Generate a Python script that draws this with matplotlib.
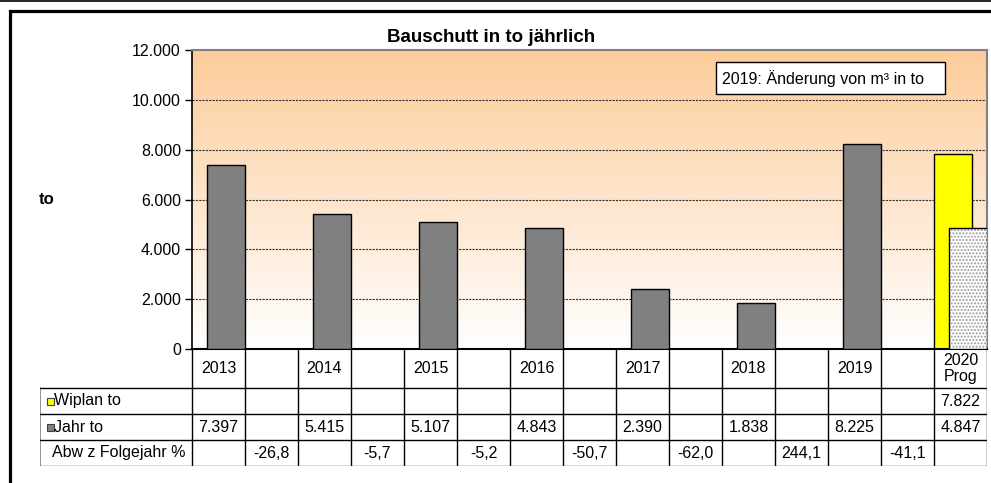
import numpy as np
import matplotlib.pyplot as plt
from matplotlib.patches import Rectangle

plt.rcParams['font.family'] = ['Liberation Sans', 'DejaVu Sans']

# data
categories = ['2013', '', '2014', '', '2015', '', '2016', '', '2017', '', '2018', '', '2019', '', '2020\nProg']
wiplan = [np.nan] * 14 + [7822]
jahr = [7397, np.nan, 5415, np.nan, 5107, np.nan, 4843, np.nan, 2390, np.nan, 1838, np.nan, 8225, np.nan, 4847]
abw = [np.nan, -26.8, np.nan, -5.7, np.nan, -5.2, np.nan, -50.7, np.nan, -62.0, np.nan, 244.1, np.nan, -41.1, np.nan]
row_labels = ['Wiplan to', 'Jahr to', 'Abw z Folgejahr %']
yticks = [0, 2000, 4000, 6000, 8000, 10000, 12000]


def de_int(v):
    return f"{v:,.0f}".replace(',', '.')


def de_dec(v):
    return f"{v:.1f}".replace('.', ',')


W, H = 991, 483
fs = 11.5
fig = plt.figure(figsize=(W / 100, H / 100), dpi=100)

# outer frame
fig.add_artist(plt.Line2D([0, 1], [1 - 1 / H, 1 - 1 / H], color='black', lw=1.2))
fig.add_artist(Rectangle((9.5 / W, -0.1), 1.2, 1 - 10.5 / H + 0.1, transform=fig.transFigure,
                         fill=False, ec='black', lw=2.3))

x0, x1, ytop, ybot = 192, 987, 50, 349
ax = fig.add_axes([x0 / W, 1 - ybot / H, (x1 - x0) / W, (ybot - ytop) / H])
n = len(categories)
x = np.arange(n)
ax.set_xlim(-0.5, n - 0.5)
ax.set_ylim(0, 12000)

# gradient background
grad = np.linspace(0, 1, 256)[:, None]
top = np.array([253, 204, 154]) / 255
bot = np.array([255, 255, 255]) / 255
img = bot + (top - bot) * grad[..., None] * np.ones((1, 2, 1))
ax.imshow(img, extent=[-0.5, n - 0.5, 0, 12000], origin='lower', aspect='auto', zorder=0)

for yv in yticks[1:-1]:
    ax.axhline(yv, color='#333333', lw=0.8, ls=(0, (2, 1)), zorder=1)

wip = np.array(wiplan, dtype=float)
jah = np.array(jahr, dtype=float)
m = ~np.isnan(wip)
ax.bar(x[m] - 0.5, wip[m], width=0.72, align='edge', color='#FFFF00', ec='black', lw=1, zorder=2)
m = ~np.isnan(jah)
xs, hs = x[m], jah[m]
ax.bar(xs[:-1] - 0.22, hs[:-1], width=0.72, align='edge', color='#808080', ec='black', lw=1, zorder=3)
ax.bar(xs[-1:] - 0.22, hs[-1:], width=0.72, align='edge', color='white', ec='#9a9a9a',
       hatch='.....', lw=0, zorder=3)
ax.bar(xs[-1:] - 0.22, hs[-1:], width=0.72, align='edge', fill=False, ec='black', lw=1, zorder=4)

ax.set_yticks(yticks)
ax.set_yticklabels([de_int(v) for v in yticks], fontsize=fs)
ax.tick_params(axis='y', length=5, width=1, pad=3)
ax.set_xticks([])
for s in ['top', 'right']:
    ax.spines[s].set_color('#808080')
    ax.spines[s].set_linewidth(1.5)
ax.spines['left'].set_linewidth(1.2)
ax.spines['bottom'].set_linewidth(1.5)

# annotation box
ax.add_patch(Rectangle((0.659, 0.853), 0.288, 0.107, transform=ax.transAxes,
                       fc='white', ec='black', lw=1, zorder=5))
ax.text(0.667, 0.906, '2019: Änderung von m³ in to', transform=ax.transAxes, fontsize=fs,
        ha='left', va='center', zorder=6)

fig.text(491 / W, 1 - 38 / H, 'Bauschutt in to jährlich', fontsize=13.5, fontweight='bold',
         ha='center', va='center')
fig.text(47 / W, 1 - 200 / H, 'to', fontsize=12, fontweight='bold', ha='center', va='center')

# data table below the plot
tl, tb = 40, 466
tax = fig.add_axes([tl / W, 1 - tb / H, (x1 - tl) / W, (tb - ybot) / H])
lab_w = (x0 - tl) / ((x1 - x0) / n)
tax.set_xlim(-0.5 - lab_w, n - 0.5)
tax.set_ylim(0, tb - ybot)
tax.axis('off')
rh = 26
hdr = rh * 3
for k in range(n + 1):
    tax.plot([k - 0.5, k - 0.5], [0, tb - ybot], color='black', lw=1)
tax.plot([-0.5 - lab_w] * 2, [0, hdr], color='#808080', lw=1.2)
for yy in [0, rh, 2 * rh, hdr]:
    tax.plot([-0.5 - lab_w, n - 0.5], [yy, yy], color='#404040' if yy == 0 else 'black', lw=1)

hy = (hdr + tb - ybot) / 2
for i, c in enumerate(categories):
    if c:
        tax.text(i, hy, c, fontsize=fs, ha='center', va='center', linespacing=1.1)
for i in range(n):
    if not np.isnan(wip[i]):
        tax.text(i, 2.5 * rh, de_int(wip[i]), fontsize=fs, ha='center', va='center')
    if not np.isnan(jah[i]):
        tax.text(i, 1.5 * rh, de_int(jah[i]), fontsize=fs, ha='center', va='center')
    if not np.isnan(abw[i]):
        tax.text(i, 0.5 * rh, de_dec(abw[i]), fontsize=fs, ha='center', va='center')

lx = -0.5 - lab_w
key_w = 7 / 53
tax.add_patch(Rectangle((lx + 7 / 53, 2.5 * rh - 3.5), key_w, 7, fc='#FFFF00', ec='#404040', lw=0.8))
tax.add_patch(Rectangle((lx + 7 / 53, 1.5 * rh - 3.5), key_w, 7, fc='#808080', ec='#404040', lw=0.8))
tax.text(lx + 14 / 53, 2.5 * rh, row_labels[0], fontsize=fs, ha='left', va='center')
tax.text(lx + 14 / 53, 1.5 * rh, row_labels[1], fontsize=fs, ha='left', va='center')
tax.text(lx + 12 / 53, 0.5 * rh, row_labels[2], fontsize=fs, ha='left', va='center')

fig.savefig('out.png', dpi=100)
